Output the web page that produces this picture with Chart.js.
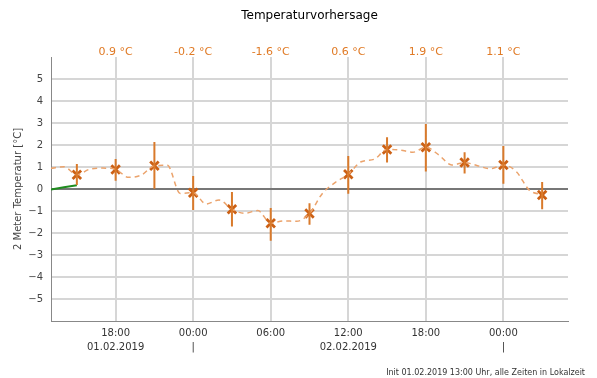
<!DOCTYPE html>
<html>
<head>
<meta charset="utf-8">
<script src="https://cdn.jsdelivr.net/npm/chart.js@4.4.1/dist/chart.umd.min.js"></script>
<style>
  html, body { margin: 0; padding: 0; background: #fff; }
  #chart { display: block; }
</style>
</head>
<body>
<canvas id="chart" width="597" height="378"></canvas>
<script>
// hours counted from init time 01.02.2019 13:00
const hourMin = 0;
const hourMax = 40;

// dashed run, one value per hour from 13:00 (01.02.) to 03:00 (03.02.)
const hourlyTemps = [
    0.94, 1.01, 0.65, 0.90, 0.95, 0.89, 0.53, 0.64, 1.06, 1.08, -0.20,
    -0.17, -0.68, -0.50, -0.92, -1.10, -0.98, -1.56, -1.45, -1.47, -1.11,
    -0.20, 0.30, 0.67, 1.24, 1.35, 1.80, 1.77, 1.67, 1.90, 1.55, 1.09,
    1.20, 1.06, 0.92, 1.09, 0.79, -0.05, -0.27
];

// observed values (green), hourly from 13:00
const observedTemps = [-0.02, 0.08, 0.17];

// 3-hourly forecast markers with spread
const markerHours = [2, 5, 8, 11, 14, 17, 20, 23, 26, 29, 32, 35, 38];
const markerTemps = [0.65, 0.89, 1.06, -0.17, -0.92, -1.56, -1.11, 0.67, 1.80, 1.90, 1.20, 1.09, -0.27];
const spreadLow = [0.18, 0.38, 0.01, -0.95, -1.71, -2.35, -1.62, -0.22, 1.20, 0.79, 0.70, 0.24, -0.92];
const spreadHigh = [1.14, 1.36, 2.14, 0.59, -0.14, -0.86, -0.65, 1.50, 2.35, 2.95, 1.67, 1.95, 0.32];

// axis ticks
const tickHours = [5, 11, 17, 23, 29, 35];
const bottomLabels = [['18:00', '01.02.2019'], ['00:00', '|'], ['06:00'], ['12:00', '02.02.2019'], ['18:00'], ['00:00', '|']];
const topLabels = ['0.9 °C', '-0.2 °C', '-1.6 °C', '0.6 °C', '1.9 °C', '1.1 °C'];

Chart.defaults.font.family = "'DejaVu Sans', sans-serif";

const hourlyData = hourlyTemps.map((t, i) => ({ x: i, y: t }));
const observedData = observedTemps.map((t, i) => ({ x: i, y: t }));
const markerData = markerHours.map((h, i) => ({ x: h, y: markerTemps[i] }));

// error bars as one broken line
const spreadData = [];
markerHours.forEach((h, i) => {
    spreadData.push({ x: h, y: spreadLow[i] });
    spreadData.push({ x: h, y: spreadHigh[i] });
    spreadData.push({ x: h, y: null });
});

const setTicks = (scale) => {
    scale.ticks = tickHours.map(v => ({ value: v }));
};

// footnote bottom right
const footnote = {
    id: 'footnote',
    afterDraw(chart) {
        const ctx = chart.ctx;
        ctx.save();
        ctx.font = "8px 'DejaVu Sans', sans-serif";
        ctx.fillStyle = '#333';
        ctx.textAlign = 'right';
        ctx.textBaseline = 'middle';
        ctx.fillText('Init 01.02.2019 13:00 Uhr, alle Zeiten in Lokalzeit', 585, 373);
        ctx.restore();
    }
};

new Chart(document.getElementById('chart'), {
    type: 'line',
    data: {
        datasets: [
            {
                data: spreadData,
                borderColor: '#d97a2b',
                borderWidth: 2,
                pointRadius: 0,
                spanGaps: false
            },
            {
                data: hourlyData,
                borderColor: '#eba36c',
                borderWidth: 1.5,
                borderDash: [5, 4],
                pointRadius: 0,
                cubicInterpolationMode: 'monotone'
            },
            {
                data: observedData,
                borderColor: '#1f8c1f',
                borderWidth: 2,
                pointRadius: 0
            },
            {
                data: markerData,
                showLine: false,
                pointStyle: 'crossRot',
                pointRadius: 6,
                pointBorderWidth: 2.8,
                pointBorderColor: '#cc6014',
                borderColor: '#cc6014'
            }
        ]
    },
    options: {
        responsive: false,
        animation: false,
        layout: { padding: { left: 0, right: 29, top: 0, bottom: 0 } },
        plugins: {
            legend: { display: false },
            tooltip: { enabled: false },
            title: {
                display: true,
                fullSize: false,
                text: 'Temperaturvorhersage',
                color: '#000',
                font: { size: 12, weight: 'normal' },
                padding: { top: 9, bottom: 0 }
            }
        },
        scales: {
            x: {
                type: 'linear',
                position: 'bottom',
                min: hourMin,
                max: hourMax,
                afterBuildTicks: setTicks,
                afterFit: (s) => { s.height = 57; },
                grid: { color: '#d6d6d6', lineWidth: 2, drawTicks: false },
                border: { color: '#888', width: 1 },
                ticks: {
                    padding: 5,
                    color: '#333',
                    font: { size: 10, lineHeight: 1.4 },
                    maxRotation: 0,
                    autoSkip: false,
                    callback: (v, i) => bottomLabels[i]
                }
            },
            xTop: {
                type: 'linear',
                position: 'top',
                min: hourMin,
                max: hourMax,
                afterBuildTicks: setTicks,
                afterFit: (s) => { s.height = 33.6; },
                grid: { display: false, drawTicks: false },
                border: { display: false },
                ticks: {
                    padding: -2,
                    color: '#e07a25',
                    font: { size: 11 },
                    maxRotation: 0,
                    autoSkip: false,
                    callback: (v, i) => topLabels[i]
                }
            },
            y: {
                min: -6,
                max: 6,
                afterFit: (s) => { s.width = 51; },
                grid: {
                    drawTicks: false,
                    lineWidth: 2,
                    color: (c) => {
                        if (Math.abs(c.tick.value) === 6) return 'rgba(0,0,0,0)';
                        return c.tick.value === 0 ? '#777' : '#d6d6d6';
                    }
                },
                border: { color: '#888', width: 1 },
                title: {
                    display: true,
                    text: '2 Meter Temperatur [°C]',
                    color: '#444',
                    font: { size: 10 },
                    padding: { top: 12, bottom: 0 }
                },
                ticks: {
                    stepSize: 1,
                    padding: 8,
                    color: '#444',
                    font: { size: 10 },
                    callback: (v) => {
                        if (Math.abs(v) === 6) return '';
                        return v < 0 ? '\u2212' + Math.abs(v) : String(v);
                    }
                }
            }
        }
    },
    plugins: [footnote]
});
</script>
</body>
</html>
